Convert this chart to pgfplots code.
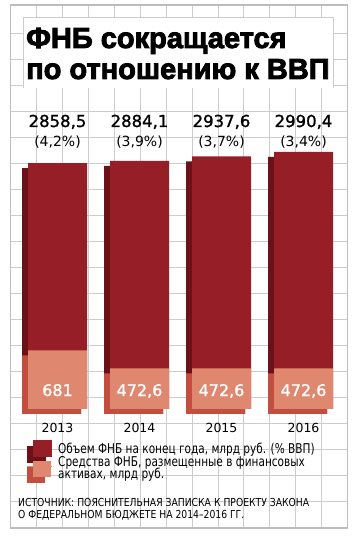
\documentclass[border=0pt]{standalone}
\usepackage{fontspec}
\usepackage{pgfplots}
\pgfplotsset{compat=1.18}
\setmainfont{DejaVu Sans}
\newfontfamily\titlefont{Liberation Sans}[BoldFeatures={FakeBold=3}]
\newfontfamily\numfont{DejaVu Sans}[FakeBold=1.2]
\newfontfamily\condfont{DejaVu Sans}[FakeStretch=0.78]
\newfontfamily\srcfont{DejaVu Sans}[FakeStretch=0.84]
\definecolor{darkfront}{HTML}{961E27}
\definecolor{darkside}{HTML}{6C1117}
\definecolor{pinkfront}{HTML}{E0886F}
\definecolor{pinkside}{HTML}{C24E3F}
\definecolor{gridc}{HTML}{CCCCCC}
\definecolor{framec}{HTML}{BDBDBD}
\begin{document}
\begin{tikzpicture}
% background, grid and frame
\fill[white] (0pt,0pt) rectangle (360pt,536pt);
\foreach \k [evaluate=\k as \xx using 10.8+25.9*\k] in {1,...,12}
  \draw[gridc, line width=0.9pt] (\xx pt,8pt) -- (\xx pt,531pt);
\foreach \k [evaluate=\k as \yy using 503-26*\k] in {0,...,18}
  \draw[gridc, line width=0.9pt] (10.8pt,\yy pt) -- (347.5pt,\yy pt);
\draw[framec, line width=1.3pt] (10.8pt,8pt) rectangle (347.5pt,531pt);
% title box
\fill[white] (23pt,448pt) rectangle (333pt,518pt);
\draw[gridc, line width=1pt] (23pt,448pt) -- (23pt,518pt) -- (333pt,518pt) -- (333pt,448pt);
\node[anchor=base west, inner sep=0pt, font=\titlefont\bfseries\fontsize{29}{31}\selectfont] at (26pt,488pt) {ФНБ сокращается};
\node[anchor=base west, inner sep=0pt, font=\titlefont\bfseries\fontsize{29}{31}\selectfont] at (26pt,457pt) {по отношению к ВВП};
% source
\node[anchor=base west, inner sep=0pt, font=\srcfont\fontsize{11}{12}\selectfont] at (18pt,30pt) {ИСТОЧНИК: ПОЯСНИТЕЛЬНАЯ ЗАПИСКА К ПРОЕКТУ ЗАКОНА};
\node[anchor=base west, inner sep=0pt, font=\srcfont\fontsize{11}{12}\selectfont] at (18pt,17pt) {О ФЕДЕРАЛЬНОМ БЮДЖЕТЕ НА 2014–2016 ГГ.};

\begin{axis}[
  at={(0pt,0pt)}, anchor=south west,
  scale only axis, width=360pt, height=536pt,
  xmin=-0.70122, xmax=3.68902, ymin=-1476.7, ymax=4755.8,
  hide axis, clip=false,
  legend cell align=left,
  legend style={draw=none, fill=none, inner sep=0pt,
    at={(axis description cs:0.075,0.1741)}, anchor=north west,
    row sep=1.5pt, column sep=6pt,
    font=\condfont\fontsize{13.5}{12}\selectfont,
    cells={anchor=base west}, nodes={inner sep=0pt}},
]
% dark bars (total)
\addplot[ybar, bar width=59pt, bar shift=-6pt, yshift=-5pt, fill=darkside, draw=none, forget plot]
  coordinates {(0,2858.5) (1,2884.1) (2,2937.6) (3,2990.4)};
\addplot[ybar, bar width=59pt, bar shift=0pt, fill=darkfront, draw=none,
  legend image code/.code={
    \path (0pt,0pt) rectangle (25pt,0.1pt);
    \fill[darkside, overlay] (0pt,-10pt) rectangle (19pt,7pt);
    \fill[darkfront, overlay] (6pt,-4pt) rectangle (25pt,13pt);
  }]
  coordinates {(0,2858.5) (1,2884.1) (2,2937.6) (3,2990.4)};
\addlegendentry{Объем ФНБ на конец года, млрд руб. (\% ВВП)}
% pink bars (placed in financial assets)
\addplot[ybar, bar width=59pt, bar shift=-6pt, yshift=-5pt, fill=pinkside, draw=none, forget plot]
  coordinates {(0,681) (1,472.6) (2,472.6) (3,472.6)};
\addplot[ybar, bar width=59pt, bar shift=0pt, fill=pinkfront, draw=none,
  legend image code/.code={
    \path (0pt,0pt) rectangle (25pt,0.1pt);
    \fill[pinkside, overlay] (0pt,-17pt) rectangle (18pt,-1pt);
    \fill[pinkfront, overlay] (6pt,-11pt) rectangle (24pt,5pt);
  }]
  coordinates {(0,681) (1,472.6) (2,472.6) (3,472.6)};
\addlegendentry{\vtop{\baselineskip=12pt\lineskiplimit=-20pt\hbox{Средства ФНБ, размещенные в финансовых}\hbox{активах, млрд руб.}}}
% value labels
\addplot[draw=none, mark=none, forget plot, nodes near coords, point meta=explicit symbolic,
  every node near coord/.append style={anchor=base, inner sep=0pt, text=black, font=\numfont\fontsize{16.5}{18}\selectfont}]
  table[meta=lab, row sep=\\] {x y lab\\ 0 3279 2858,5\\ 1 3279 2884,1\\ 2 3279 2937,6\\ 3 3279 2990,4\\};
\addplot[draw=none, mark=none, forget plot, nodes near coords, point meta=explicit symbolic,
  every node near coord/.append style={anchor=base, inner sep=0pt, text=black, font=\fontsize{14}{16}\selectfont}]
  table[meta=lab, row sep=\\] {x y lab\\ 0 3058 (4,2\%)\\ 1 3058 (3,9\%)\\ 2 3058 (3,7\%)\\ 3 3058 (3,4\%)\\};
\addplot[draw=none, mark=none, forget plot, nodes near coords, point meta=explicit symbolic,
  every node near coord/.append style={anchor=base, inner sep=0pt, text=white, font=\numfont\fontsize{16}{18}\selectfont}]
  table[meta=lab, row sep=\\] {x y lab\\ 0 151 681\\ 1 151 472,6\\ 2 151 472,6\\ 3 151 472,6\\};
\addplot[draw=none, mark=none, forget plot, nodes near coords, point meta=explicit symbolic,
  every node near coord/.append style={anchor=base, inner sep=0pt, text=black, font=\fontsize{12.5}{14}\selectfont}]
  table[meta=lab, row sep=\\] {x y lab\\ 0 -279 2013\\ 1 -279 2014\\ 2 -279 2015\\ 3 -279 2016\\};
\end{axis}
\end{tikzpicture}
\end{document}
